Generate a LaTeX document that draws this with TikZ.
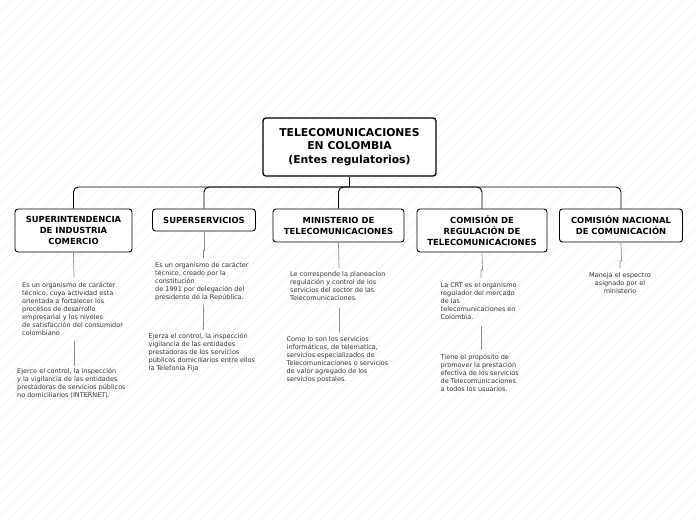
\documentclass[tikz,border=0pt]{standalone}
\usepackage{fontspec}
\setmainfont{DejaVu Sans}
\begin{document}
\begin{tikzpicture}[x=1pt,y=-1pt,
  box/.style={draw=black,line width=0.9pt,rounded corners=3pt,fill=white,align=center,font=\bfseries\fontsize{8.4}{11}\selectfont,inner sep=1pt},
  rootbox/.style={box,line width=1.3pt,font=\bfseries\fontsize{10.8}{13.5}\selectfont},
  note/.style={inner sep=0pt,align=left,text=black!80,font=\fontsize{6.5}{8}\selectfont},
  notec/.style={note,align=center},
  branch/.style={draw=black,line width=0.9pt,rounded corners=5pt},
  conn/.style={draw=black!45,line width=0.7pt}]
\useasboundingbox (0,0) rectangle (696,520);
\fill[white] (0,0) rectangle (696,520);
\begin{scope}
\clip (0,0) rectangle (696,520);
\foreach \i in {0,12,...,1220}{
  \draw[black!6,line width=0.4pt] (\i-520,520) -- (\i,0);
}
\end{scope}

\node[rootbox,minimum width=173pt,minimum height=58pt] (root) at (349.5,147) {TELECOMUNICACIONES\\EN COLOMBIA\\(Entes regulatorios)};
\node[box,minimum width=117pt,minimum height=43pt] (sic) at (73.5,230.5) {SUPERINTENDENCIA\\DE INDUSTRIA\\COMERCIO};
\node[box,minimum width=103pt,minimum height=22pt] (sup) at (204,220) {SUPERSERVICIOS};
\node[box,minimum width=131pt,minimum height=33pt] (min) at (338.5,225.5) {MINISTERIO DE\\TELECOMUNICACIONES};
\node[box,minimum width=130pt,minimum height=43pt] (crt) at (482,230.5) {COMISIÓN DE\\REGULACIÓN DE\\TELECOMUNICACIONES};
\node[box,minimum width=123pt,minimum height=33pt] (cnc) at (621,225.5) {COMISIÓN NACIONAL\\DE COMUNICACIÓN};

\coordinate (hub) at (349.5,187);
\draw[branch] (root.south) -- (hub);
\foreach \c in {sic,sup,min,crt,cnc}{
  \draw[branch] (hub) -| (\c.north);
}

% notes
\node[note,anchor=north west] (sic1) at (22,282) {Es un organismo de carácter\\técnico, cuya actividad esta\\orientada a fortalecer los\\procesos de desarrollo\\empresarial y los niveles\\de satisfacción del consumidor\\colombiano};
\node[note,anchor=north west] (sic2) at (17,368) {Ejerce el control, la inspección\\y la vigilancia de las entidades\\prestadoras de servicios públicos\\no domiciliarios (INTERNET).};
\node[note,anchor=north west] (sup1) at (155,262) {Es un organismo de carácter\\técnico, creado por la\\constitución\\de 1991 por delegación del\\presidente de la República.};
\node[note,anchor=north west] (sup2) at (148.5,333) {Ejerza el control, la inspección\\vigilancia de las entidades\\prestadoras de los servicios\\públicos domiciliarios entre ellos\\la Telefonía Fija};
\node[note,anchor=north west] (min1) at (290,271.5) {Le corresponde la planeacion\\regulación y control de los\\servicios del sector de las\\Telecomunicaciones.};
\node[note,anchor=north west] (min2) at (286.5,336) {Como lo son los servicios\\informáticos, de telematica,\\servicios especializados de\\Telecomunicaciones o servicios\\de valor agregado de los\\servicios postales.};
\node[note,anchor=north west] (crt1) at (440.5,282) {La CRT es el organismo\\regulador del mercado\\de las\\telecomunicaciones en\\Colombia.};
\node[note,anchor=north west] (crt2) at (440.5,354) {Tiene el propósito de\\promover la prestación\\efectiva de los servicios\\de Telecomunicaciones\\a todos los usuarios.};
\node[notec,anchor=north] (cnc1) at (620,272) {Maneja el espectro\\asignado por el\\ministerio};

% connectors
\coordinate (s1) at (74,278);
\draw[conn] (sic.south) -- (s1);
\coordinate (s2a) at (74,341); \coordinate (s2b) at (74,366);
\draw[conn] (s2a) -- (s2b);

\coordinate (u1) at (204,250); \coordinate (u2) at (203,258);
\draw[conn] (sup.south) -- (u1) -| (u2);
\coordinate (u3) at (203,305); \coordinate (u4) at (203,330);
\draw[conn] (u3) -- (u4);

\coordinate (m1) at (339,268);
\draw[conn] (min.south) -- (m1);
\coordinate (m2) at (339,308); \coordinate (m3) at (339,332);
\draw[conn] (m2) -- (m3);

\coordinate (c1) at (482.5,270); \coordinate (c2) at (481,278);
\draw[conn] (crt.south) -- (c1) -| (c2);
\coordinate (c3) at (481,326); \coordinate (c4) at (481,350);
\draw[conn] (c3) -- (c4);

\coordinate (n1) at (621.5,261); \coordinate (n2) at (620,268);
\draw[conn] (cnc.south) -- (n1) -| (n2);
\end{tikzpicture}
\end{document}
